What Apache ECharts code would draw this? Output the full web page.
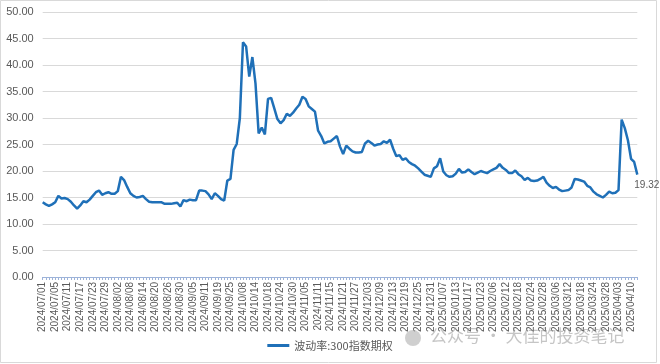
<!DOCTYPE html>
<html>
<head>
<meta charset="utf-8">
<script src="https://cdn.jsdelivr.net/npm/echarts@6/dist/echarts.min.js"></script>
<style>html,body{margin:0;padding:0;background:#fff;}#c{width:660px;height:364px;}</style>
</head>
<body>
<div id="c"></div>
<script>
var seriesName = '波动率:300指数期权';
var dates = [
'2024/07/01','2024/07/02','2024/07/03','2024/07/04','2024/07/05','2024/07/08','2024/07/09','2024/07/10','2024/07/11','2024/07/12',
'2024/07/15','2024/07/16','2024/07/17','2024/07/18','2024/07/19','2024/07/22','2024/07/23','2024/07/24','2024/07/25','2024/07/26',
'2024/07/29','2024/07/30','2024/07/31','2024/08/01','2024/08/02','2024/08/05','2024/08/06','2024/08/07','2024/08/08','2024/08/09',
'2024/08/12','2024/08/13','2024/08/14','2024/08/15','2024/08/16','2024/08/19','2024/08/20','2024/08/21','2024/08/22','2024/08/23',
'2024/08/26','2024/08/27','2024/08/28','2024/08/29','2024/08/30','2024/09/02','2024/09/03','2024/09/04','2024/09/05','2024/09/06',
'2024/09/09','2024/09/10','2024/09/11','2024/09/12','2024/09/13','2024/09/18','2024/09/19','2024/09/20','2024/09/23','2024/09/24',
'2024/09/25','2024/09/26','2024/09/27','2024/09/30','2024/10/08','2024/10/09','2024/10/10','2024/10/11','2024/10/14','2024/10/15',
'2024/10/16','2024/10/17','2024/10/18','2024/10/21','2024/10/22','2024/10/23','2024/10/24','2024/10/25','2024/10/28','2024/10/29',
'2024/10/30','2024/10/31','2024/11/01','2024/11/04','2024/11/05','2024/11/06','2024/11/07','2024/11/08','2024/11/11','2024/11/12',
'2024/11/13','2024/11/14','2024/11/15','2024/11/18','2024/11/19','2024/11/20','2024/11/21','2024/11/22','2024/11/25','2024/11/26',
'2024/11/27','2024/11/28','2024/11/29','2024/12/02','2024/12/03','2024/12/04','2024/12/05','2024/12/06','2024/12/09','2024/12/10',
'2024/12/11','2024/12/12','2024/12/13','2024/12/16','2024/12/17','2024/12/18','2024/12/19','2024/12/20','2024/12/23','2024/12/24',
'2024/12/25','2024/12/26','2024/12/27','2024/12/30','2024/12/31','2025/01/02','2025/01/03','2025/01/06','2025/01/07','2025/01/08',
'2025/01/09','2025/01/10','2025/01/13','2025/01/14','2025/01/15','2025/01/16','2025/01/17','2025/01/20','2025/01/21','2025/01/22',
'2025/01/23','2025/01/24','2025/01/27','2025/02/05','2025/02/06','2025/02/07','2025/02/10','2025/02/11','2025/02/12','2025/02/13',
'2025/02/14','2025/02/17','2025/02/18','2025/02/19','2025/02/20','2025/02/21','2025/02/24','2025/02/25','2025/02/26','2025/02/27',
'2025/02/28','2025/03/03','2025/03/04','2025/03/05','2025/03/06','2025/03/07','2025/03/10','2025/03/11','2025/03/12','2025/03/13',
'2025/03/14','2025/03/17','2025/03/18','2025/03/19','2025/03/20','2025/03/21','2025/03/24','2025/03/25','2025/03/26','2025/03/27',
'2025/03/28','2025/03/31','2025/04/01','2025/04/02','2025/04/03','2025/04/07','2025/04/08','2025/04/09','2025/04/10','2025/04/11',
'2025/04/14'
];
var values = [
14.1,13.7,13.4,13.7,14.1,15.3,14.8,14.9,14.7,14.2,
13.5,12.9,13.5,14.3,14.1,14.6,15.3,16.0,16.3,15.5,
15.8,16.0,15.7,15.7,16.2,18.9,18.3,17.0,15.8,15.3,
15.0,15.1,15.3,14.7,14.2,14.1,14.1,14.1,14.1,13.8,
13.8,13.8,13.9,14.0,13.3,14.5,14.3,14.6,14.5,14.5,
16.3,16.3,16.2,15.6,14.7,15.8,15.3,14.7,14.4,18.2,
18.5,24.0,25.1,30.0,44.3,43.5,37.8,41.5,36.5,27.1,
28.2,26.9,33.6,33.8,31.8,29.8,29.0,29.6,30.8,30.4,
31.0,31.8,32.5,34.0,33.6,32.2,31.7,31.2,27.6,26.6,
25.2,25.5,25.6,26.1,26.6,24.6,23.2,24.8,24.2,23.7,
23.5,23.5,23.6,25.2,25.7,25.3,24.8,25.0,25.1,25.6,
25.3,25.9,24.2,22.8,23.0,22.1,22.4,21.7,21.3,21.0,
20.5,19.9,19.3,19.1,18.9,20.5,20.9,22.4,19.9,19.2,
18.9,19.0,19.5,20.4,19.7,19.8,20.3,19.8,19.4,19.7,
20.0,19.8,19.6,20.0,20.3,20.6,21.3,20.6,20.2,19.6,
19.6,20.1,19.4,19.0,18.3,18.7,18.2,18.1,18.2,18.5,
18.9,17.8,17.2,16.8,17.0,16.5,16.2,16.3,16.4,16.9,
18.5,18.4,18.2,18.0,17.2,16.9,16.1,15.6,15.3,15.0,
15.5,16.1,15.8,15.9,16.4,29.7,28.1,25.8,22.3,21.7,
19.32
];
var watermark = '公众号 · 大佳的投资笔记';

var chart = echarts.init(document.getElementById('c'), null, {renderer: 'canvas'});
chart.setOption({
  animation: false,
  backgroundColor: '#ffffff',
  textStyle: {fontFamily: '"Noto Sans CJK SC", "Liberation Sans", sans-serif'},
  graphic: [
    {type: 'rect', shape: {x: 0.5, y: 0.5, width: 656, height: 362}, style: {fill: 'none', stroke: '#d9d9d9', lineWidth: 1}, silent: true, z: -1},
    {type: 'circle', shape: {cx: 413, cy: 338, r: 8}, style: {fill: 'rgba(160,160,160,0.5)'}, silent: true, z: 10},
    {type: 'text', left: 430, top: 327, style: {text: watermark, fill: 'rgba(150,150,150,0.55)', fontSize: 17, fontFamily: '"Noto Sans CJK SC", sans-serif'}, silent: true, z: 10}
  ],
  grid: {left: 42.7, right: 22.7, top: 12, bottom: 87, containLabel: false},
  legend: {
    bottom: 8, left: 'center',
    data: [{name: seriesName, icon: 'rect'}],
    itemWidth: 22, itemHeight: 3, itemGap: 4,
    textStyle: {color: '#595959', fontSize: 11, fontFamily: '"Noto Sans CJK SC", sans-serif'}
  },
  xAxis: {
    type: 'category',
    data: dates,
    boundaryGap: false,
    axisLine: {lineStyle: {color: '#9db3d9', width: 1}},
    axisTick: {show: true, interval: 0, length: 3, lineStyle: {color: '#9db3d9'}},
    axisLabel: {interval: 3, rotate: 90, fontSize: 10, color: '#595959', margin: 5, fontFamily: '"Liberation Sans", Arial, sans-serif'},
    splitLine: {show: false}
  },
  yAxis: {
    type: 'value',
    min: 0, max: 50, interval: 5,
    axisLine: {show: false},
    axisTick: {show: false},
    axisLabel: {formatter: function (v) { return v.toFixed(2); }, color: '#595959', fontSize: 11, margin: 9, fontFamily: '"Liberation Sans", Arial, sans-serif'},
    splitLine: {lineStyle: {color: '#d9d9d9', width: 1}}
  },
  series: [{
    name: seriesName,
    type: 'line',
    data: values,
    showSymbol: false,
    symbol: 'none',
    smooth: false,
    lineStyle: {color: '#1f70b8', width: 2.5},
    itemStyle: {color: '#1f70b8'},
    endLabel: {
      show: true,
      formatter: function (p) { return Number(p.value).toFixed(2); },
      color: '#595959', fontSize: 10, offset: [-11, 11],
      fontFamily: '"Liberation Sans", Arial, sans-serif'
    }
  }]
});
</script>
</body>
</html>
